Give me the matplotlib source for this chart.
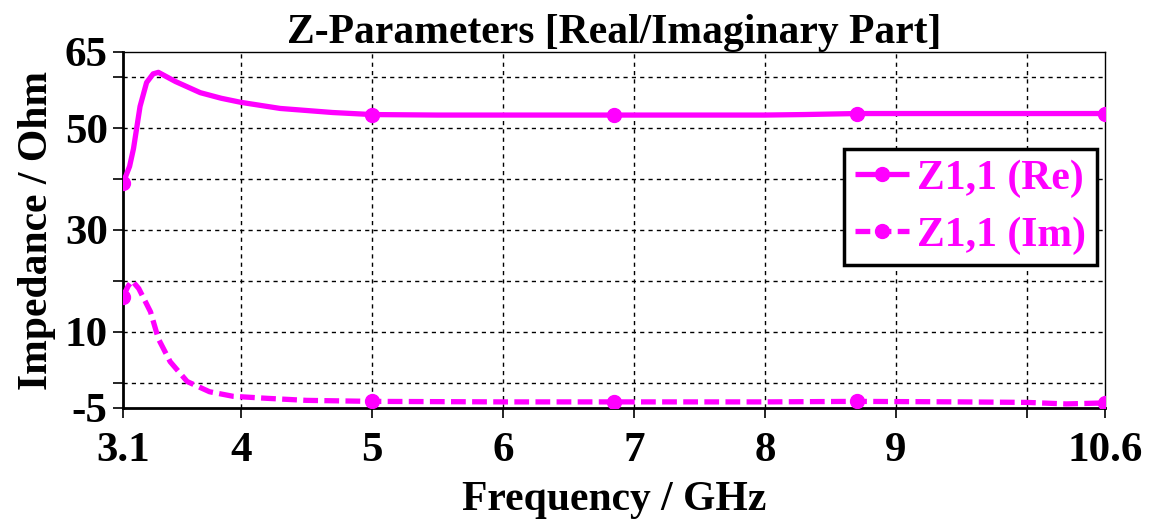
import matplotlib
matplotlib.use("Agg")
import matplotlib.pyplot as plt

# Data
freq_re = [3.1, 3.15, 3.18, 3.23, 3.28, 3.33, 3.37, 3.5, 3.69, 3.85, 4.0, 4.3, 4.7, 5.0,
           5.5, 6.0, 6.85, 7.5, 8.0, 8.3, 8.7, 9.5, 10.0, 10.6]
re_vals = [39.2, 42.5, 46.0, 54.3, 59.0, 60.7, 61.0, 59.2, 57.0, 55.9, 55.1, 53.9, 53.1, 52.7,
           52.6, 52.6, 52.6, 52.6, 52.6, 52.7, 52.9, 52.9, 52.9, 52.9]
freq_im = [3.1, 3.14, 3.17, 3.22, 3.31, 3.37, 3.46, 3.59, 3.76, 3.94, 4.2, 4.5, 5.0,
           6.0, 6.85, 8.0, 8.7, 9.5, 10.0, 10.3, 10.6]
im_vals = [16.9, 19.0, 20.0, 18.5, 13.9, 8.6, 4.1, 0.2, -1.8, -2.7, -3.1, -3.5, -3.7,
           -3.8, -3.8, -3.8, -3.7, -3.8, -3.9, -4.2, -4.0]
marker_freqs = [3.1, 5.0, 6.85, 8.7, 10.6]

x_ticks = [3.1, 4, 5, 6, 7, 8, 9, 10, 10.6]
x_labels = ["3.1", "4", "5", "6", "7", "8", "9", "", "10.6"]
y_ticks = [-5, 0, 10, 20, 30, 40, 50, 60, 65]
y_labels = ["-5", "", "10", "", "30", "", "50", "", "65"]
x_grid = [4, 5, 6, 7, 8, 9, 10]
y_grid = [0, 10, 20, 30, 40, 50, 60]

title = "Z-Parameters [Real/Imaginary Part]"
series_names = ["Z1,1 (Re)", "Z1,1 (Im)"]

plt.rcParams['font.family'] = ['Liberation Serif', 'DejaVu Serif']
plt.rcParams['font.weight'] = 'bold'

color = '#FF00FF'
fig = plt.figure(figsize=(11.53, 5.21), dpi=100)
ax = fig.add_axes([0.1067, 0.2169, 0.852, 0.6833])

re_mk = [freq_re.index(f) for f in marker_freqs]
im_mk = [freq_im.index(f) for f in marker_freqs]
ax.plot(freq_re, re_vals, color=color, lw=3.8, marker='o', ms=10, markevery=re_mk,
        label=series_names[0], zorder=3, solid_capstyle='butt')
ax.plot(freq_im, im_vals, color=color, lw=3.8, ls=(0, (2.8, 1.2)), marker='o', ms=10,
        markevery=im_mk, label=series_names[1], zorder=3)

ax.set_xlim(3.1, 10.6)
ax.set_ylim(-5, 65)
ax.set_xticks(x_ticks)
ax.set_xticklabels(x_labels)
ax.set_yticks(y_ticks)
ax.set_yticklabels(y_labels)
for g in x_grid:
    ax.axvline(g, color='black', lw=1.0, ls=(0, (3, 3)), zorder=1)
for g in y_grid:
    ax.axhline(g, color='black', lw=1.0, ls=(0, (3, 3)), zorder=1)

ax.tick_params(axis='both', direction='out', length=7, width=1.2, labelsize=31)
ax.tick_params(axis='x', pad=10)
ax.tick_params(axis='y', pad=4)
for lab in ax.get_xticklabels() + ax.get_yticklabels():
    lab.set_fontweight('bold')
ax.spines['left'].set_linewidth(2.0)
ax.spines['bottom'].set_linewidth(2.0)
ax.spines['top'].set_linewidth(1.0)
ax.spines['right'].set_linewidth(1.0)

ax.set_title(title, fontsize=30, fontweight='bold', pad=6)
ax.set_xlabel("Frequency / GHz", fontsize=30, fontweight='bold', labelpad=8)
ax.set_ylabel("Impedance / Ohm", fontsize=30, fontweight='bold', labelpad=6)

leg = ax.legend(loc='upper right', bbox_to_anchor=(0.991, 0.728), fontsize=30,
                frameon=True, fancybox=False, edgecolor='black', framealpha=1,
                handlelength=1.3, handletextpad=0.2, borderpad=0.25, labelspacing=0.45,
                borderaxespad=0)
leg.get_frame().set_linewidth(2.5)
for t in leg.get_texts():
    t.set_color(color)
    t.set_fontweight('bold')

fig.savefig("out.png", dpi=100)
